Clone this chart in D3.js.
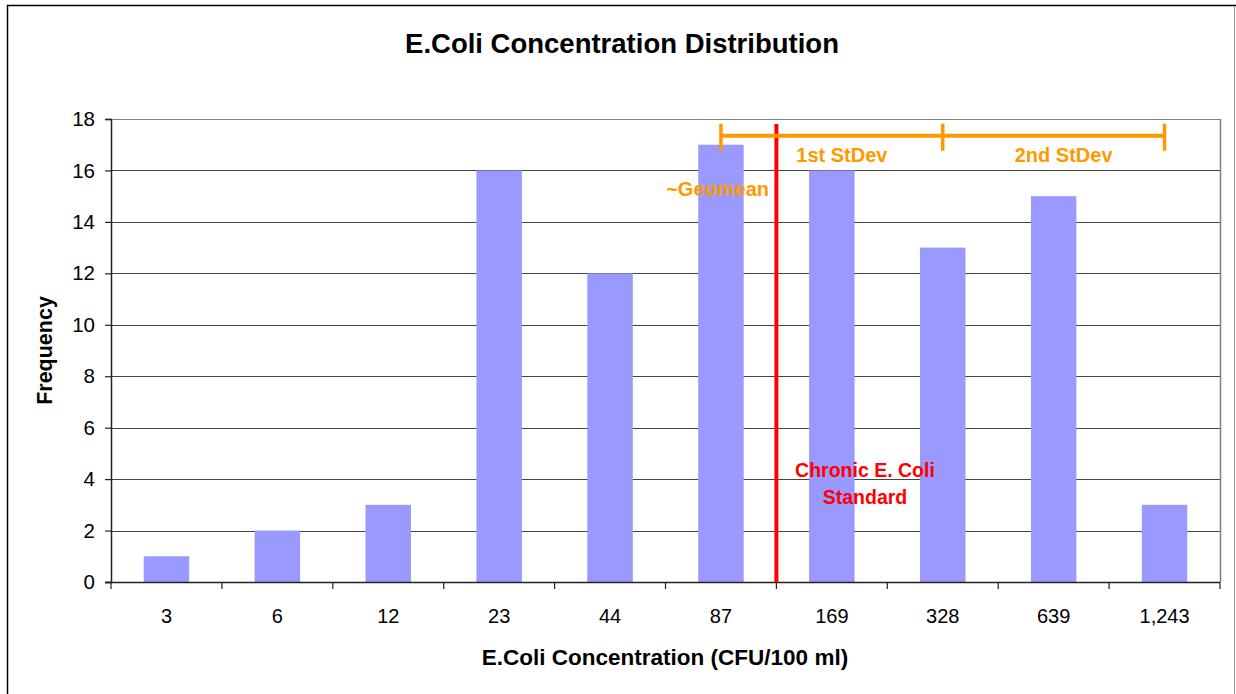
<!DOCTYPE html>
<html>
<head>
<meta charset="utf-8">
<script src="https://cdn.jsdelivr.net/npm/d3@7"></script>
<style>
  html, body { margin: 0; padding: 0; background: #fff; }
  svg { display: block; font-family: "Liberation Sans", Arial, sans-serif; }
</style>
</head>
<body>
<svg id="chart" width="1236" height="694"></svg>
<script>
// ---- data ----
const categories = ["3", "6", "12", "23", "44", "87", "169", "328", "639", "1,243"];
const frequencies = [1, 2, 3, 16, 12, 17, 16, 13, 15, 3];
const yTicks = [0, 2, 4, 6, 8, 10, 12, 14, 16, 18];
const titleText = "E.Coli Concentration Distribution";
const xLabelText = "E.Coli Concentration (CFU/100 ml)";
const yLabelText = "Frequency";
// bracket anchors (category names) and labels
const bracketPoints = ["87", "328", "1,243"];
const bracketLabels = ["1st StDev", "2nd StDev"];
const bracketLevel = 17.35;           // in frequency units
const standardBoundary = ["87", "169"]; // red line between these categories
const standardText = ["Chronic E. Coli", "Standard"];
const geomeanText = "~Geomean";

// ---- layout ----
const svg = d3.select("#chart");
const L = 111, R = 1220, T = 119, B = 582;

const xBand = d3.scaleBand().domain(categories).range([L, R]).padding(0);
const x = d3.scaleBand().domain(categories).range([L, R]).paddingInner(0.59).paddingOuter(0.295);
const y = d3.scaleLinear().domain([0, 18]).range([B, T]);

// outer chart border
svg.append("line").attr("x1", 7.5).attr("x2", 7.5).attr("y1", 5).attr("y2", 694).attr("stroke", "#000").attr("stroke-width", 1.5);
svg.append("line").attr("x1", 7).attr("x2", 1236).attr("y1", 5.5).attr("y2", 5.5).attr("stroke", "#000").attr("stroke-width", 1.5);
svg.append("line").attr("x1", 1234.5).attr("x2", 1234.5).attr("y1", 6).attr("y2", 694).attr("stroke", "#999").attr("stroke-width", 1);

// title
svg.append("text").attr("x", 622).attr("y", 53).attr("text-anchor", "middle")
  .attr("font-size", 27.5).attr("font-weight", "bold").attr("fill", "#000").text(titleText);

// gridlines
svg.append("g").selectAll("line").data(yTicks.filter(d => d > 0)).join("line")
  .attr("x1", L).attr("x2", R)
  .attr("y1", d => Math.round(y(d)) + 0.5).attr("y2", d => Math.round(y(d)) + 0.5)
  .attr("stroke", d => d === 18 ? "#808080" : "#444").attr("stroke-width", 1.2);

// plot area right border
svg.append("line").attr("x1", R + 0.5).attr("x2", R + 0.5).attr("y1", T).attr("y2", B)
  .attr("stroke", "#808080").attr("stroke-width", 1.5);

// bars
svg.append("g").selectAll("rect").data(categories).join("rect")
  .attr("x", d => x(d))
  .attr("width", x.bandwidth())
  .attr("y", (d, i) => y(frequencies[i]))
  .attr("height", (d, i) => y(0) - y(frequencies[i]))
  .attr("fill", "#9999FF");

// y axis
const yAxis = svg.append("g").attr("transform", `translate(${L},0)`)
  .call(d3.axisLeft(y).tickValues(yTicks).tickSize(6).tickPadding(10).tickFormat(d3.format("d")));
yAxis.select(".domain").attr("stroke", "#222").attr("stroke-width", 1.5);
yAxis.selectAll(".tick line").attr("stroke", "#222").attr("stroke-width", 1.2);
yAxis.selectAll(".tick text").attr("font-size", 20.5).attr("fill", "#000")
  .attr("font-family", "Liberation Sans, Arial, sans-serif");

// x axis (ticks at band boundaries)
const xAxisG = svg.append("g").attr("transform", `translate(0,${B})`);
xAxisG.append("line").attr("x1", L - 6).attr("x2", R).attr("y1", 0.5).attr("y2", 0.5)
  .attr("stroke", "#222").attr("stroke-width", 1.5);
const boundaries = categories.map(c => xBand(c)).concat([R]);
xAxisG.selectAll("line.tk").data(boundaries).join("line").attr("class", "tk")
  .attr("x1", d => d).attr("x2", d => d).attr("y1", 0).attr("y2", 7)
  .attr("stroke", "#222").attr("stroke-width", 1.2);
xAxisG.selectAll("text").data(categories).join("text")
  .attr("x", d => xBand(d) + xBand.bandwidth() / 2).attr("y", 41)
  .attr("text-anchor", "middle").attr("font-size", 20).attr("fill", "#000").text(d => d);

// axis titles
svg.append("text").attr("x", 665).attr("y", 665).attr("text-anchor", "middle")
  .attr("font-size", 22.5).attr("font-weight", "bold").text(xLabelText);
svg.append("text").attr("transform", `translate(52,${(T + B) / 2}) rotate(-90)`)
  .attr("text-anchor", "middle").attr("font-size", 21.5).attr("font-weight", "bold").text(yLabelText);

// red standard line
const redX = xBand(standardBoundary[1]);
svg.append("line").attr("x1", redX).attr("x2", redX).attr("y1", 124).attr("y2", B)
  .attr("stroke", "#FF0000").attr("stroke-width", 4);
svg.append("text").attr("x", 865).attr("y", 477).attr("text-anchor", "middle")
  .attr("font-size", 19.5).attr("font-weight", "bold").attr("fill", "#FF0000").text(standardText[0]);
svg.append("text").attr("x", 865).attr("y", 504).attr("text-anchor", "middle")
  .attr("font-size", 19.5).attr("font-weight", "bold").attr("fill", "#FF0000").text(standardText[1]);

// orange bracket
const orange = "#FF9900";
const bx = bracketPoints.map(c => xBand(c) + xBand.bandwidth() / 2);
const by = y(bracketLevel);
svg.append("line").attr("x1", bx[0]).attr("x2", bx[2]).attr("y1", by).attr("y2", by)
  .attr("stroke", orange).attr("stroke-width", 4);
svg.selectAll("line.bt").data(bx).join("line").attr("class", "bt")
  .attr("x1", d => d).attr("x2", d => d).attr("y1", by - 12).attr("y2", by + 15)
  .attr("stroke", orange).attr("stroke-width", 3.5);
bracketLabels.forEach((t, i) => {
  svg.append("text").attr("x", (bx[i] + bx[i + 1]) / 2 + 10).attr("y", 162)
    .attr("text-anchor", "middle").attr("font-size", 20).attr("font-weight", "bold")
    .attr("fill", orange).text(t);
});
svg.append("text").attr("x", 769).attr("y", 196).attr("text-anchor", "end")
  .attr("font-size", 20).attr("font-weight", "bold").attr("fill", orange).text(geomeanText);
</script>
</body>
</html>
